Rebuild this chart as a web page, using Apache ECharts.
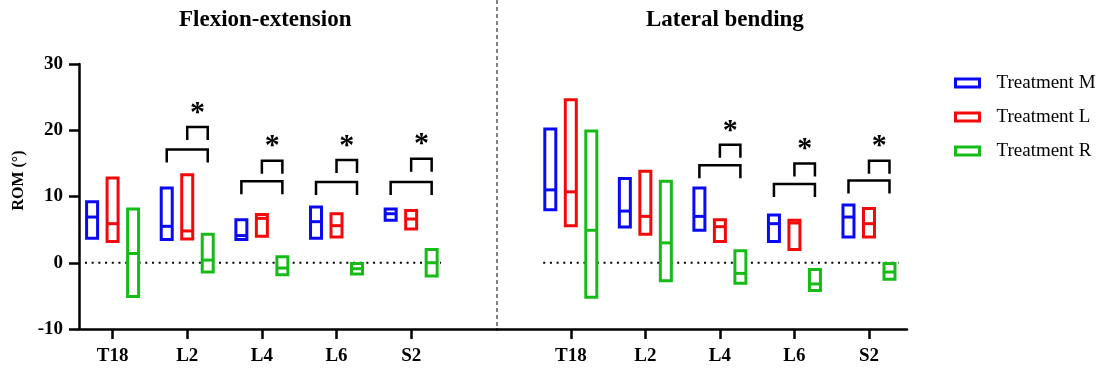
<!DOCTYPE html>
<html>
<head>
<meta charset="utf-8">
<script src="https://cdn.jsdelivr.net/npm/echarts@6/dist/echarts.min.js"></script>
<style>html,body{margin:0;padding:0;background:#fff}#c{width:1102px;height:372px}</style>
</head>
<body>
<div id="c"></div>
<script>
// ---- data ----
const categories = ['T18', 'L2', 'L4', 'L6', 'S2'];
const treatments = ['Treatment M', 'Treatment L', 'Treatment R'];
const panelTitles = ['Flexion-extension', 'Lateral bending'];
const yTicks = [-10, 0, 10, 20, 30];
// each entry: [min, median, max]
const feM = [[3.7, 6.9, 9.2], [3.5, 5.5, 11.3], [3.5, 4.1, 6.5], [3.7, 6.2, 8.4], [6.4, 7.4, 8.1]];
const feL = [[3.2, 5.9, 12.8], [3.6, 4.8, 13.3], [4.0, 6.7, 7.3], [3.9, 5.6, 7.4], [5.1, 6.6, 7.9]];
const feR = [[-5.1, 1.4, 8.1], [-1.4, 0.4, 4.3], [-1.8, -0.8, 0.9], [-1.7, -0.9, -0.1], [-2.0, 0.0, 2.0]];
const lbM = [[8.0, 11.0, 20.2], [5.4, 7.8, 12.7], [4.9, 7.0, 11.3], [3.2, 5.9, 7.2], [3.9, 6.9, 8.7]];
const lbL = [[5.6, 10.7, 24.6], [4.3, 7.0, 13.8], [3.2, 5.45, 6.5], [2.0, 6.0, 6.4], [3.9, 5.9, 8.2]];
const lbR = [[-5.2, 4.9, 19.9], [-2.7, 3.0, 12.3], [-3.1, -1.6, 1.8], [-4.2, -3.2, -1.0], [-2.5, -1.4, -0.1]];
// significance brackets (bracket bar heights), null = none
const feBracketLow = [null, 17.1, 12.3, 12.2, 12.2];
const feBracketHigh = [null, 20.5, 15.4, 15.5, 15.7];
const lbBracketLow = [null, null, 14.7, 11.9, 12.4];
const lbBracketHigh = [null, null, 17.8, 15.0, 15.4];

// ---- style ----
const colors = ['#0a0af2', '#f20a0a', '#17bb17'];
const offsets = [-20.5, 0, 20.5];
const serif = '"Liberation Serif", "Times New Roman", serif';
const BOXW = 11, LW = 3;

function boxSeries(name, arr, gi, ti) {
  return {
    type: 'custom', name: name, xAxisIndex: gi, yAxisIndex: gi, z: 5,
    itemStyle: { color: colors[ti] },
    data: arr.map((d, i) => [i, d[0], d[1], d[2]]),
    encode: { x: 0, y: [1, 2, 3] },
    renderItem: function (params, api) {
      const x = api.value(0);
      const pLo = api.coord([x, api.value(1)]);
      const pMed = api.coord([x, api.value(2)]);
      const pHi = api.coord([x, api.value(3)]);
      const cx = pLo[0] + offsets[ti];
      return {
        type: 'group', children: [
          { type: 'rect', shape: { x: cx - BOXW / 2, y: pHi[1], width: BOXW, height: pLo[1] - pHi[1] },
            style: { fill: '#fff', stroke: colors[ti], lineWidth: LW } },
          { type: 'line', shape: { x1: cx - BOXW / 2, y1: pMed[1], x2: cx + BOXW / 2, y2: pMed[1] },
            style: { stroke: colors[ti], lineWidth: LW } }
        ]
      };
    }
  };
}

function bracketSeries(low, high, gi) {
  const data = [];
  low.forEach((v, i) => { if (v != null) data.push([i, v, high[i]]); });
  return {
    type: 'custom', xAxisIndex: gi, yAxisIndex: gi, silent: true, z: 6,
    data: data, encode: { x: 0, y: [1, 2] },
    renderItem: function (params, api) {
      const x = api.value(0);
      const pL = api.coord([x, api.value(1)]);
      const pH = api.coord([x, api.value(2)]);
      const leg = 13;
      const xb = pL[0] + offsets[0], xr = pL[0] + offsets[1], xg = pL[0] + offsets[2];
      return {
        type: 'group', children: [
          { type: 'polyline', shape: { points: [[xb, pL[1] + leg], [xb, pL[1]], [xg, pL[1]], [xg, pL[1] + leg]] },
            style: { stroke: '#000', lineWidth: 2.5, fill: null } },
          { type: 'polyline', shape: { points: [[xr, pH[1] + leg], [xr, pH[1]], [xg, pH[1]], [xg, pH[1] + leg]] },
            style: { stroke: '#000', lineWidth: 2.5, fill: null } },
          { type: 'text', x: (xr + xg) / 2, y: pH[1] + 1,
            style: { text: '*', fill: '#000', font: 'bold 30px ' + serif, textAlign: 'center', textVerticalAlign: 'bottom' } }
        ]
      };
    }
  };
}

function zeroLine(gi) {
  return {
    type: 'line', xAxisIndex: gi, yAxisIndex: gi, silent: true, symbol: 'none', z: 1,
    data: [[-0.37, 0], [4.4, 0]],
    lineStyle: { color: '#000', width: 2, type: [2, 4.7] }
  };
}

const xAxisCommon = {
  type: 'value', interval: 1,
  axisLine: { show: true, onZero: false, lineStyle: { color: '#000', width: 2.5 } },
  axisTick: { show: true, customValues: [0, 1, 2, 3, 4], length: 10, lineStyle: { color: '#000', width: 2.5 } },
  axisLabel: { customValues: [0, 1, 2, 3, 4], formatter: v => categories[Math.round(v)] || '',
    color: '#000', fontFamily: serif, fontWeight: 'bold', fontSize: 19, margin: 18 },
  splitLine: { show: false }
};

const option = {
  animation: false,
  backgroundColor: '#fff',
  title: [
    { text: panelTitles[0], left: 174, top: 4, textStyle: { fontFamily: serif, fontWeight: 'bold', fontSize: 23, color: '#000' } },
    { text: panelTitles[1], left: 641, top: 4, textStyle: { fontFamily: serif, fontWeight: 'bold', fontSize: 23, color: '#000' } }
  ],
  legend: {
    orient: 'vertical', left: 954, top: 73, padding: 0, itemWidth: 24, itemHeight: 8, itemGap: 14,
    textStyle: { fontFamily: serif, fontSize: 19, color: '#000', lineHeight: 20, padding: [0, 0, 0, 12] },
    data: treatments.map((t, i) => ({ name: t, icon: 'rect',
      itemStyle: { color: '#fff', borderColor: colors[i], borderWidth: 3 } }))
  },
  grid: [
    { left: 79, right: 1102 - 497, top: 64, bottom: 372 - 329 },
    { left: 497, right: 1102 - 907, top: 64, bottom: 372 - 329 }
  ],
  xAxis: [
    Object.assign({}, xAxisCommon, { gridIndex: 0, min: -0.45, max: 5.15 }),
    Object.assign({}, xAxisCommon, { gridIndex: 1, min: -0.99, max: 4.51 })
  ],
  yAxis: [
    { type: 'value', gridIndex: 0, min: yTicks[0], max: yTicks[yTicks.length - 1], interval: 10,
      name: 'ROM (°)', nameLocation: 'middle', nameGap: 52, nameRotate: 90,
      nameTextStyle: { fontFamily: serif, fontWeight: 'bold', fontSize: 16, color: '#000', padding: [0, 0, 0, 32] },
      axisLine: { show: true, onZero: false, lineStyle: { color: '#000', width: 2.5 } },
      axisTick: { show: true, length: 10, lineStyle: { color: '#000', width: 2.5 } },
      axisLabel: { color: '#000', fontFamily: serif, fontWeight: 'bold', fontSize: 19, margin: 16 },
      splitLine: { show: false } },
    { type: 'value', gridIndex: 1, min: yTicks[0], max: yTicks[yTicks.length - 1], interval: 10, show: false, splitLine: { show: false } }
  ],
  graphic: [
    { type: 'line', shape: { x1: 497, y1: 0, x2: 497, y2: 329 }, style: { stroke: '#000', lineWidth: 1, lineDash: [4, 3] } }
  ],
  series: [
    zeroLine(0), zeroLine(1),
    boxSeries(treatments[0], feM, 0, 0), boxSeries(treatments[1], feL, 0, 1), boxSeries(treatments[2], feR, 0, 2),
    boxSeries(treatments[0], lbM, 1, 0), boxSeries(treatments[1], lbL, 1, 1), boxSeries(treatments[2], lbR, 1, 2),
    bracketSeries(feBracketLow, feBracketHigh, 0), bracketSeries(lbBracketLow, lbBracketHigh, 1)
  ]
};
const chart = echarts.init(document.getElementById('c'), null, { renderer: 'canvas' });
chart.setOption(option);
</script>
</body>
</html>
